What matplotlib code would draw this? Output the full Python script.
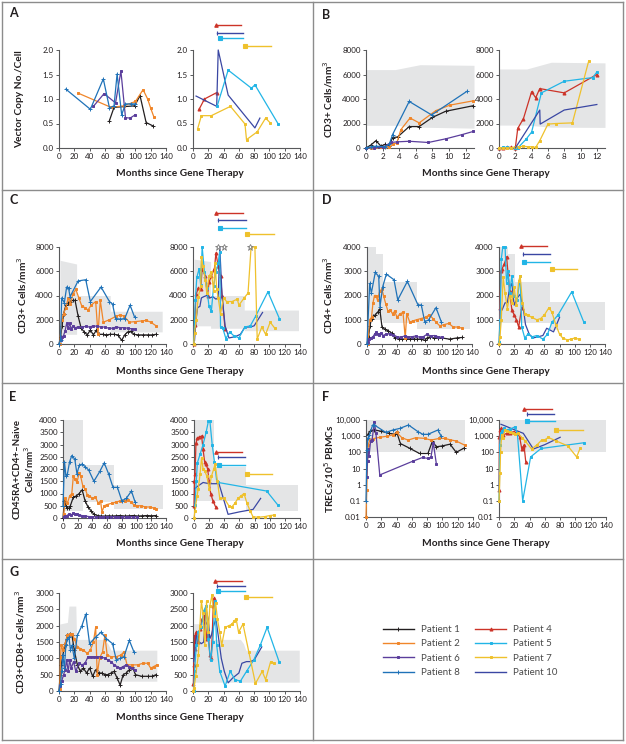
import matplotlib
matplotlib.use('Agg')
import matplotlib.pyplot as plt
from matplotlib.lines import Line2D

# ---------------- data (months since gene therapy, value) ----------------
A_LEFT = {
    1: ([66, 72, 99, 106, 114, 123], [0.56, 0.83, 0.86, 1.07, 0.52, 0.45]),
    2: ([25, 68, 85, 100, 110, 116, 120, 124], [1.12, 0.83, 0.86, 0.95, 1.19, 1.0, 0.81, 0.64]),
    6: ([45, 59, 74, 81, 87, 93, 100], [0.85, 1.11, 0.92, 1.57, 0.62, 0.61, 0.68]),
    8: ([9, 41, 58, 66, 72, 76, 82, 87, 94, 99], [1.2, 0.79, 1.41, 0.82, 0.86, 1.51, 0.68, 0.9, 0.9, 0.9]),
}
A_RIGHT = {
    4: ([8, 15, 31], [0.79, 1.0, 1.13]),
    10: ([4, 31, 33, 46, 81, 87.5], [1.06, 0.85, 2.0, 1.08, 0.41, 0.61]),
    5: ([31.5, 46, 76.5, 81, 111.5], [0.85, 1.59, 1.22, 1.29, 0.49]),
    7: ([6, 11, 24, 49, 68, 70, 84, 95, 100.6], [0.39, 0.66, 0.66, 0.85, 0.49, 0.17, 0.33, 0.61, 0.52]),
}
A_BRACKETS = {4: (30, 63, 2.51), 10: (32, 66, 2.35), 5: (35, 66, 2.24), 7: (68, 102, 2.08)}

B_LEFT = {
    1: ([0, 0.6, 1.2, 1.8, 2.3, 2.8, 3.2, 3.8, 5.2, 6.4, 8.0, 9.6, 12.9],
        [0, 250, 600, 150, 300, 200, 850, 900, 1750, 1750, 2500, 3000, 3450]),
    2: ([0, 0.6, 1.2, 1.8, 2.3, 2.8, 3.2, 3.7, 4.2, 5.3, 6.4, 8.4, 10.1, 12.9],
        [0, 0, 50, 50, 100, 100, 300, 400, 1500, 2450, 2050, 3050, 3500, 3850]),
    6: ([0, 1, 2, 3, 3.7, 5.2, 7.5, 9.6, 11.6, 12.9], [0, 30, 50, 450, 500, 550, 450, 750, 1100, 1350]),
    8: ([0, 0.6, 1.2, 2.3, 2.8, 3.2, 5.2, 7.9, 12.2], [0, 100, 150, 100, 300, 1100, 3800, 2700, 4650]),
}
B_RIGHT = {
    4: ([0, 0.5, 1, 1.5, 2, 2.3, 3, 4, 4.5, 5, 8, 12],
        [0, 0, 50, 50, 0, 1600, 2400, 4600, 4100, 4850, 4500, 6000]),
    5: ([0, 0.5, 1, 1.5, 2, 2.3, 3.3, 4, 5.2, 8, 11.5, 12],
        [0, 50, 50, 0, 0, 0, 700, 1300, 4500, 5450, 5750, 6200]),
    7: ([0, 0.5, 1, 1.5, 2, 2.5, 3, 3.5, 4, 4.5, 5, 6, 7, 9, 11],
        [0, 0, 0, 0, 100, 100, 150, 100, 100, 50, 600, 1950, 2000, 2050, 7100]),
    10: ([2, 5, 5.05, 8, 12], [0, 3100, 1950, 3100, 3550]),
}
B_LEFT_BAND = ([0, 3.5, 6.5, 13], [1850, 1850, 1700, 1620], [6400, 6400, 6800, 6750])
B_RIGHT_BAND = ([0, 3.4, 6.4, 13], [1870, 1870, 1700, 1680], [6450, 6450, 7000, 6950])

C_LEFT = {
    1: ([0, 2, 4, 6, 9, 12, 15, 18, 21, 25, 29, 33, 37, 41, 45, 49, 52, 57, 62, 67, 72, 77, 82, 86, 90, 94, 98, 104, 110, 116, 122, 127],
        [0, 600, 1500, 2500, 3200, 3400, 3500, 3600, 3600, 2300, 1300, 1000, 750, 1150, 750, 1150, 800, 800, 750, 800, 800, 750, 300, 750, 1000, 1050, 800, 750, 750, 750, 750, 800]),
    2: ([1, 3.5, 6, 9, 12, 15, 18, 22, 26, 30, 34, 38, 42, 48, 51, 54, 58, 66, 75, 80, 85, 92, 100, 108, 114, 120, 127],
        [0, 2000, 2500, 3000, 3800, 3300, 4100, 4500, 3800, 3100, 3000, 2800, 3200, 3500, 800, 3600, 1800, 2000, 2300, 2400, 2300, 1800, 1850, 1900, 1950, 1800, 1500]),
    6: ([2, 4, 6, 8, 10, 12, 14, 16, 18, 21, 25, 30, 35, 40, 45, 50, 55, 60, 65, 70, 75, 80, 85, 90, 95, 100],
        [300, 600, 700, 1100, 1700, 1300, 1700, 1200, 1500, 1350, 1400, 1400, 1450, 1400, 1500, 1450, 1400, 1400, 1300, 1300, 1400, 1350, 1350, 1300, 1250, 1200]),
    8: ([0, 2, 3.5, 7, 10, 12.5, 14.5, 25, 35, 41, 55, 66, 70, 74, 80, 86, 93, 99],
        [0, 300, 3800, 3400, 4700, 4600, 3900, 5200, 5300, 3500, 4700, 3500, 3300, 2100, 2050, 2100, 3200, 2200]),
}
C_RIGHT = {
    4: ([1, 2, 4, 7, 10, 12, 16, 19, 21, 24, 28, 30, 33, 36, 38, 42],
        [0, 1600, 4100, 4600, 4500, 6200, 5600, 4000, 5100, 5600, 6200, 7500, 6400, 5600, 4000, 1200]),
    10: ([2, 4, 6, 9, 11, 14, 18, 22, 26, 30, 33, 35, 38, 42, 47, 55, 62, 68, 75, 80, 85, 91],
         [300, 2000, 3000, 3100, 3800, 3900, 4000, 3800, 3900, 3700, 3800, 8000, 4000, 1500, 500, 600, 800, 1400, 1400, 1500, 2000, 2600]),
    5: ([1, 3, 5, 8, 10, 12, 15, 18, 21, 24, 27, 30, 33, 35, 36, 39, 43, 48, 53, 60, 68, 75, 82, 98, 113],
        [0, 3600, 5500, 6200, 4900, 8000, 5900, 4600, 3100, 2700, 4800, 5900, 6700, 7600, 1400, 1300, 450, 1000, 700, 500, 1400, 1500, 2300, 4300, 2100]),
    7: ([1, 2, 4, 7, 10, 11, 13, 16, 18, 21, 24, 27, 29, 31, 33, 36, 40, 44, 51, 58, 60, 67, 72, 76, 81, 84, 90, 95, 101, 107],
        [0, 900, 2000, 3900, 4800, 7200, 6400, 5300, 4200, 5600, 5900, 4400, 6700, 4500, 3800, 2500, 3800, 3500, 3500, 3700, 3200, 3800, 4200, 8000, 8000, 400, 1400, 800, 1800, 1300]),
}
C_LEFT_BAND = ([1.5, 23, 23, 67, 67, 135], [800, 800, 1500, 1500, 1000, 1000], [6900, 6600, 4000, 4000, 2700, 2700])
C_RIGHT_BAND = ([1.5, 23, 23, 67, 67, 138], [1500, 1500, 1300, 1300, 1100, 1100], [7000, 6800, 4000, 4000, 2800, 2800])
C_BRACKETS = {4: (30, 65, 10800), 10: (33, 69, 10200), 5: (35, 69, 9560), 7: (71, 106, 9100)}
C_STARS_X = [32.8, 40, 75]
C_STAR_VALUE = 8000

D_LEFT = {
    1: ([0, 2, 4, 6, 8, 11, 14, 17, 20, 24, 28, 33, 37, 42, 47, 52, 57, 62, 67, 72, 77, 80, 84, 89, 94, 100, 110, 120, 127],
        [0, 300, 750, 1050, 1150, 1200, 1300, 1450, 700, 600, 550, 450, 250, 200, 200, 200, 200, 200, 200, 200, 150, 250, 300, 250, 250, 250, 200, 250, 270]),
    2: ([1, 3.5, 6, 8, 10, 12, 14, 17, 20, 22, 25, 28, 31, 34, 37, 40, 44, 48, 51, 53, 57, 61, 66, 72, 78, 83, 88, 92, 97, 103, 109, 115, 121, 127],
        [0, 1000, 1100, 1700, 2000, 2000, 1800, 2200, 2250, 2000, 1650, 1350, 1400, 1250, 1350, 1100, 1250, 1300, 250, 1250, 900, 950, 1000, 1050, 1100, 1200, 1050, 900, 750, 800, 850, 700, 700, 650]),
    6: ([1, 3, 5, 8, 10, 12, 14, 16, 18, 21, 25, 30, 35, 40, 45, 50, 55, 60, 65, 70, 75, 80, 85, 90, 95, 100],
        [100, 200, 250, 300, 400, 480, 420, 380, 450, 350, 400, 420, 380, 300, 280, 330, 300, 300, 330, 280, 300, 400, 330, 350, 300, 280]),
    8: ([0, 3.6, 5.8, 11, 15.6, 17.3, 21, 25.8, 36, 41, 53.8, 68, 72.4, 77, 82, 92, 99],
        [0, 2500, 2100, 2950, 2790, 1540, 2370, 2880, 2650, 1820, 2580, 1610, 1610, 920, 990, 1500, 920]),
}
D_RIGHT = {
    4: ([0.5, 1.3, 2.6, 4, 7, 10, 12, 14, 17, 20, 23, 26, 30],
        [100, 1500, 3000, 3100, 3300, 3600, 2900, 2200, 1400, 1200, 1000, 700, 1500]),
    10: ([1, 4, 8, 11, 14, 17, 20, 24, 28, 32, 35, 40, 45, 52, 58, 63, 72, 80],
         [1400, 1400, 1700, 1700, 2300, 2500, 1600, 1900, 2050, 1500, 800, 400, 250, 300, 350, 650, 500, 1100]),
    5: ([0, 1.5, 3, 5, 8, 10, 12, 14, 17, 20, 24, 28, 30, 34, 38, 44, 50, 58, 64, 70, 78, 96, 112],
        [100, 1000, 3500, 4000, 4000, 2500, 3000, 2100, 2800, 2000, 1800, 2800, 700, 250, 400, 300, 350, 200, 400, 900, 1200, 2150, 900]),
    7: ([0, 1.3, 3, 5.5, 8, 11, 14, 17, 20, 23, 26, 28, 31, 34, 38, 43, 50, 55, 60, 66, 70, 75, 80, 84, 90, 95, 100, 105],
        [0, 300, 1000, 2750, 2100, 1450, 2000, 1700, 2350, 1600, 2600, 2800, 1700, 1250, 1200, 1100, 1000, 1050, 1200, 1500, 1300, 800, 400, 250, 170, 200, 250, 200]),
}
D_LEFT_BAND = ([0, 12, 12, 21, 21, 67, 67, 137], [1000, 1000, 1000, 1000, 850, 850, 620, 620],
               [4000, 4000, 3700, 3700, 2550, 2550, 1750, 1750])
D_RIGHT_BAND = ([0, 12, 12, 21, 21, 67, 67, 140], [850, 850, 850, 850, 850, 850, 580, 580],
                [4000, 4000, 3700, 3700, 2550, 2550, 1750, 1750])
D_BRACKETS = {4: (29, 64, 4050), 10: (32, 67, 3710), 5: (33.5, 67, 3400), 7: (70.5, 103, 3090)}

E_LEFT = {
    1: ([0, 2, 4, 6, 8, 10, 14, 18, 22, 26, 30, 34, 38, 42, 47, 52, 57, 62, 67, 72, 78, 84, 90, 96, 102, 108, 114, 120, 127],
        [0, 700, 500, 400, 400, 500, 850, 900, 1000, 1150, 700, 450, 300, 150, 100, 80, 80, 90, 80, 90, 100, 80, 90, 100, 80, 90, 100, 90, 100]),
    2: ([1, 3, 6, 9, 12, 14, 16, 19, 22, 24, 27, 30, 33, 36, 40, 44, 48, 51, 53, 56, 60, 66, 72, 78, 84, 88, 92, 96, 100, 106, 112, 118, 124, 127],
        [150, 800, 600, 900, 1000, 1700, 1600, 1450, 1850, 1700, 1300, 1200, 950, 900, 800, 850, 600, 700, 250, 500, 550, 600, 650, 700, 700, 750, 650, 550, 500, 500, 450, 450, 400, 350]),
    6: ([1, 3, 5, 8, 11, 14, 16, 19, 22, 26, 30, 35, 40, 45, 50, 55, 60, 65, 70, 75, 80, 85, 90, 95, 100],
        [50, 80, 100, 150, 120, 200, 180, 150, 120, 100, 80, 60, 50, 50, 40, 50, 50, 40, 50, 50, 40, 50, 60, 40, 50]),
    8: ([0, 2, 4, 6, 9, 12, 16, 19, 22, 26, 30, 35, 42, 50, 56, 62, 68, 74, 80, 86, 93, 98],
        [500, 2300, 1700, 1800, 2300, 2550, 2400, 1800, 2150, 2200, 2100, 1950, 1500, 1900, 2250, 1800, 1250, 1250, 700, 800, 1100, 650]),
}
E_RIGHT = {
    4: ([0, 0.5, 1.3, 2.6, 4.4, 7, 10, 12, 14, 16, 18, 20, 22, 25, 28.6],
        [500, 1500, 1800, 3050, 3250, 3300, 3350, 2800, 2300, 2200, 2000, 1500, 1000, 700, 450]),
    10: ([1, 5, 12, 20, 30, 33, 45, 60, 78, 88], [1200, 1300, 1450, 1400, 1400, 1400, 150, 250, 350, 800]),
    5: ([1.3, 3, 4.4, 8, 12, 16, 19, 21, 24, 27, 30, 32, 96, 111],
        [550, 1500, 2250, 2600, 3000, 3500, 3950, 3950, 3000, 2300, 1500, 1450, 1100, 520]),
    7: ([0, 1.3, 4, 5.7, 8, 10, 12, 14.5, 17, 20, 23, 26, 28, 31, 34, 40, 46, 50, 54, 58, 62, 66, 70, 74, 78, 85, 94, 100, 106],
        [0, 300, 900, 1200, 1800, 2450, 2000, 1900, 1700, 1200, 1700, 2000, 2200, 1500, 800, 800, 500, 450, 600, 800, 900, 1000, 600, 300, 50, 30, 60, 100, 120]),
}
E_LEFT_BAND = ([0, 27, 27, 69, 69, 136], [300, 300, 650, 650, 350, 350], [4000, 4000, 2150, 2150, 1350, 1350])
E_RIGHT_BAND = ([0, 27, 27, 69, 69, 138], [700, 700, 700, 700, 300, 300], [4000, 4000, 2100, 2100, 1350, 1350])
E_BRACKETS = {4: (29, 64, 2700), 10: (32, 67, 2500), 5: (33.5, 67, 2180), 7: (69.6, 103.5, 1790)}

F_LEFT = {
    1: ([2, 5, 10, 20, 30, 38, 40, 45, 57, 70, 81, 87, 92, 100, 110, 118, 128],
        [1200, 2000, 2500, 2000, 1500, 1300, 1900, 350, 180, 85, 85, 500, 220, 250, 320, 100, 180]),
    2: ([0, 1, 2, 3, 5, 9, 18, 28, 35, 40, 47, 55, 65, 77, 85, 96, 103, 110, 118, 129],
        [0.01, 0.5, 30, 300, 600, 700, 850, 1000, 1200, 1700, 800, 570, 800, 730, 570, 730, 730, 600, 500, 280]),
    6: ([1, 2, 3, 4, 6, 8, 11, 13, 18, 61, 74, 81, 85, 88, 92],
        [3, 30, 150, 60, 500, 600, 8000, 1500, 4, 28, 48, 42, 50, 400, 20]),
    8: ([0, 1.3, 2.2, 4.4, 8.7, 10.9, 26, 35, 44, 55.6, 68, 74.4, 81, 94, 98.4],
        [0.1, 140, 720, 1170, 4900, 4900, 1700, 2400, 3000, 4900, 1900, 1300, 1300, 2400, 1000]),
}
F_RIGHT = {
    4: ([0, 0.5, 1.3, 3, 5.7, 10, 15, 19, 24, 27, 29.7, 31, 32.7, 35],
        [0.5, 900, 2400, 3000, 1200, 1500, 1600, 1900, 1500, 900, 170, 200, 280, 26]),
    10: ([2.6, 7, 20, 31.8, 45, 60, 80], [5400, 4500, 2500, 1500, 160, 300, 850]),
    5: ([0, 1, 2, 4, 6, 10, 15, 21, 24, 31, 41.4, 55, 111],
        [0.1, 300, 1500, 2000, 3000, 2500, 2800, 3800, 1500, 0.1, 52, 173, 390]),
    7: ([0, 1.3, 2, 3.5, 5, 7.8, 11, 14.4, 18, 21, 25, 30, 34, 42.7, 50, 55.8, 60, 64.5, 75, 90, 101.6, 106],
        [0.1, 5, 100, 1200, 800, 2400, 2000, 1900, 1500, 1350, 1500, 800, 520, 160, 300, 570, 600, 840, 500, 250, 52, 173]),
}
F_LEFT_BAND = ([0, 130], [100, 100], [10000, 10000])
F_RIGHT_BAND = ([0, 140], [100, 100], [10000, 10000])
F_BRACKETS = {4: (33, 69, 45900), 10: (36, 72, 23600), 5: (37, 73, 8700), 7: (74.6, 110, 2400)}
F_TICKS = [0.01, 0.1, 1, 10, 100, 1000, 10000]
F_TICK_LABELS = ['0.01', '0.1', '1', '10', '100', '1,000', '10,000']

G_LEFT = {
    1: ([0, 1.5, 3, 5, 8, 11, 14, 17, 20, 24, 28, 32, 36, 40, 44, 48, 52, 56, 60, 64, 68, 72, 76, 80, 84, 88, 92, 96, 100, 108, 116, 122, 127],
        [0, 500, 800, 1100, 1450, 1700, 1750, 1700, 1250, 800, 600, 700, 550, 700, 450, 650, 550, 550, 500, 500, 550, 600, 400, 180, 500, 550, 650, 750, 500, 450, 450, 450, 500]),
    2: ([1, 2, 3, 5, 8, 11, 14, 17, 20, 24, 28, 32, 37, 41, 45, 48, 50, 53, 57, 60, 63, 68, 75, 81, 85, 89, 96, 103, 110, 116, 120, 124, 128],
        [50, 1050, 1400, 1250, 1450, 1700, 1750, 1750, 1600, 1350, 1300, 1250, 1150, 1250, 1500, 1950, 500, 1000, 1200, 1700, 1100, 1050, 1050, 1100, 1200, 800, 800, 800, 850, 850, 700, 750, 800]),
    6: ([1, 3.5, 6, 8, 10, 12, 14, 16, 19, 22, 26, 30, 34, 38, 42, 46, 50, 55, 60, 64, 68, 72, 76, 80, 84, 88, 92, 96, 100],
        [150, 300, 500, 650, 950, 600, 950, 700, 900, 600, 850, 800, 850, 1050, 1050, 1050, 1050, 1050, 1000, 950, 900, 800, 750, 700, 750, 800, 750, 700, 650]),
    8: ([0, 2, 3.5, 5, 7, 9, 11, 13, 15, 17, 20, 24, 30, 35, 40, 48, 55, 62, 70, 75, 80, 85, 92, 98],
        [0, 200, 600, 1100, 700, 1400, 1600, 1650, 1250, 1400, 1000, 1700, 2000, 2350, 1450, 1650, 1800, 1600, 1450, 950, 1000, 1050, 1550, 1200]),
}
G_RIGHT = {
    4: ([0.5, 1, 2.2, 3, 4.4, 6, 9, 12, 14, 16, 18, 20, 22, 24, 26.5, 28],
        [200, 800, 1700, 1300, 1800, 1500, 1900, 2200, 2300, 2100, 1600, 1750, 1100, 1000, 2600, 2850]),
    10: ([1, 4.4, 8, 11, 14, 17, 20, 22, 24, 27, 30, 33, 37, 41, 46, 52, 60, 64, 70, 75, 80, 85, 90],
         [900, 1700, 1500, 1450, 1500, 2500, 2200, 1600, 1700, 2000, 2200, 1700, 1000, 600, 250, 400, 550, 850, 900, 900, 950, 1150, 1350]),
    5: ([1, 2, 4.4, 7, 11, 14, 17, 20, 23, 26, 28.7, 31, 35, 42, 48.6, 55, 62, 70, 79.5, 88, 97, 112.6],
        [0, 600, 1400, 1800, 1950, 2450, 2600, 1600, 950, 1500, 2750, 1400, 600, 150, 600, 350, 300, 600, 950, 1400, 1950, 900]),
    7: ([0, 1.3, 3.5, 5.3, 7, 9, 11, 13, 15.5, 17.7, 20, 22, 25, 27, 29.6, 32, 35, 37.5, 42, 47, 51, 54, 56.5, 59.6, 65.4, 73, 81.7, 90.5, 95, 101.6, 106],
        [0, 80, 450, 800, 1100, 2000, 2750, 2400, 1400, 2750, 1800, 2600, 2950, 2300, 2700, 2200, 1800, 1400, 1950, 2000, 2050, 2150, 2200, 1800, 2050, 1200, 230, 600, 350, 900, 850]),
}
G_LEFT_BAND = ([1, 11, 13, 22, 23, 59, 64, 68, 128], [300] * 9,
               [2050, 2100, 2600, 2600, 1580, 1580, 1450, 1250, 1250])
G_RIGHT_BAND = ([1, 21, 22, 62, 66, 69, 139], [270] * 7, [2060, 2060, 1580, 1580, 1450, 1250, 1250])
G_BRACKETS = {4: (28.7, 64, 3380), 10: (31.8, 67.6, 3220), 5: (33, 68.5, 3070), 7: (69, 104, 2870)}

PATIENT_ORDER = [1, 2, 6, 8, 4, 5, 7, 10]

# ---------------- styling ----------------
COLORS = {1: '#231f20', 2: '#f0862a', 6: '#5b3e9c', 8: '#1f72b8',
          4: '#cc3328', 5: '#22b5e6', 7: '#efc12c', 10: '#3a47a3'}
MARKERS = {1: '+', 2: 's', 6: 's', 8: '+', 4: '^', 5: 's', 7: 's', 10: ''}
MSIZE = {1: 3.0, 2: 1.8, 6: 2.0, 8: 3.0, 4: 2.2, 5: 1.8, 7: 1.8, 10: 0}
BAND = '#e4e5e6'
AXIS_C = '#58595b'
TEXT_C = '#231f20'

plt.rcParams['font.family'] = ['Lato', 'DejaVu Sans']

W, H = 626, 744
fig = plt.figure(figsize=(W / 100, H / 100), dpi=100)


def add_ax(x0, x1, ytop, ybot):
    return fig.add_axes([x0 / W, 1 - ybot / H, (x1 - x0) / W, (ybot - ytop) / H])


def setup(ax, xmax, xticks, ylim, yticks, ylabels=None, log=False):
    if log:
        ax.set_yscale('log')
    ax.set_xlim(0, xmax)
    ax.set_ylim(*ylim)
    ax.set_xticks(xticks)
    ax.set_yticks(yticks)
    if ylabels is not None:
        ax.set_yticklabels(ylabels)
    ax.minorticks_off()
    ax.patch.set_alpha(0)
    for s in ['top', 'right']:
        ax.spines[s].set_visible(False)
    for s in ['left', 'bottom']:
        ax.spines[s].set_color(AXIS_C)
        ax.spines[s].set_linewidth(0.8)
    ax.tick_params(direction='out', length=2.5, width=0.7, color=AXIS_C,
                   labelsize=5.8, pad=1.3, labelcolor=TEXT_C)


def draw(ax, series, band=None, brackets=None):
    if band is not None:
        bx, lo, hi = band
        ax.fill_between(bx, lo, hi, color=BAND, lw=0, zorder=1)
    for pid, (xs, ys) in series.items():
        ax.plot(xs, ys, color=COLORS[pid], lw=0.9, marker=MARKERS[pid] or None,
                ms=MSIZE[pid], mew=0.7, clip_on=False, zorder=3)
    if brackets:
        for pid, (x0, x1, y) in brackets.items():
            ax.plot([x0, x1], [y, y], color=COLORS[pid], lw=1.0, clip_on=False, zorder=3)
            ax.plot([x0], [y], color=COLORS[pid], marker=MARKERS[pid] or '|',
                    ms=max(MSIZE[pid], 2.5), mew=0.8, clip_on=False, zorder=3)


MONTHS = list(range(0, 141, 20))


def ylabel(x, ytop, ybot, text, size=7.3):
    fig.text(x / W, 1 - (ytop + ybot) / 2 / H, text, rotation=90, ha='center', va='center',
             fontsize=size, fontweight='bold', color=TEXT_C, linespacing=1.05)


def xlabel(xc, y):
    fig.text(xc / W, 1 - y / H, 'Months since Gene Therapy', ha='center', va='center',
             fontsize=7.3, fontweight='bold', color=TEXT_C)


def letter(x, y, s):
    fig.text(x / W, 1 - y / H, s, ha='left', va='center', fontsize=9, fontweight='bold', color=TEXT_C)


# ---- A ----
ax = add_ax(59, 166, 50, 148)
setup(ax, 140, MONTHS, (0, 2), [0, 0.5, 1.0, 1.5, 2.0], ['0.0', '0.5', '1.0', '1.5', '2.0'])
draw(ax, A_LEFT)
ax = add_ax(193, 300, 50, 148)
setup(ax, 140, MONTHS, (0, 2), [0, 0.5, 1.0, 1.5, 2.0], ['0.0', '0.5', '1.0', '1.5', '2.0'])
draw(ax, A_RIGHT, brackets=A_BRACKETS)
ylabel(20, 50, 148, 'Vector Copy No./Cell')
xlabel(180, 173)
letter(9, 13, 'A')

# ---- B ----
ax = add_ax(366, 474, 50, 148)
setup(ax, 13, range(0, 13, 2), (0, 8000), range(0, 8001, 2000))
draw(ax, B_LEFT, band=B_LEFT_BAND)
ax = add_ax(499, 605, 50, 148)
setup(ax, 13, range(0, 13, 2), (0, 8000), range(0, 8001, 2000))
draw(ax, B_RIGHT, band=B_RIGHT_BAND)
ylabel(328, 50, 148, 'CD3+ Cells/mm$^3$')
xlabel(486, 173)
letter(322, 15, 'B')

# ---- C ----
ax = add_ax(59, 166, 247, 344)
setup(ax, 140, MONTHS, (0, 8000), range(0, 8001, 2000))
draw(ax, C_LEFT, band=C_LEFT_BAND)
ax = add_ax(193, 300, 247, 344)
setup(ax, 140, MONTHS, (0, 8000), range(0, 8001, 2000))
draw(ax, C_RIGHT, band=C_RIGHT_BAND, brackets=C_BRACKETS)
ax.plot(C_STARS_X, [C_STAR_VALUE] * len(C_STARS_X), ls='none', marker='*', ms=4.5,
        mfc='white', mec='#7a7a7a', mew=0.6, clip_on=False, zorder=4)
ylabel(22, 247, 344, 'CD3+ Cells/mm$^3$')
xlabel(180, 371)
letter(9, 200, 'C')

# ---- D ----
ax = add_ax(367, 472, 247, 344)
setup(ax, 140, MONTHS, (0, 4000), range(0, 4001, 1000))
draw(ax, D_LEFT, band=D_LEFT_BAND)
ax = add_ax(499, 605, 247, 344)
setup(ax, 140, MONTHS, (0, 4000), range(0, 4001, 1000))
draw(ax, D_RIGHT, band=D_RIGHT_BAND, brackets=D_BRACKETS)
ylabel(328, 247, 344, 'CD4+ Cells/mm$^3$')
xlabel(486, 371)
letter(322, 200, 'D')

# ---- E ----
ax = add_ax(63, 166, 420, 518)
setup(ax, 140, MONTHS, (0, 4000), range(0, 4001, 500))
draw(ax, E_LEFT, band=E_LEFT_BAND)
ax = add_ax(194, 300, 420, 518)
setup(ax, 140, MONTHS, (0, 4000), range(0, 4001, 500))
draw(ax, E_RIGHT, band=E_RIGHT_BAND, brackets=E_BRACKETS)
ylabel(24, 420, 518, 'CD45RA+CD4+\u2013Naive\nCells/mm$^3$', size=7.0)
xlabel(180, 544)
letter(9, 397, 'E')

# ---- F ----
ax = add_ax(366, 473, 420, 517)
setup(ax, 140, MONTHS, (0.01, 10000), F_TICKS, F_TICK_LABELS, log=True)
draw(ax, F_LEFT, band=F_LEFT_BAND)
ax = add_ax(499, 606, 420, 517)
setup(ax, 140, MONTHS, (0.01, 10000), F_TICKS, F_TICK_LABELS, log=True)
draw(ax, F_RIGHT, band=F_RIGHT_BAND, brackets=F_BRACKETS)
ylabel(329, 420, 517, 'TRECs/10$^5$ PBMCs')
xlabel(486, 544)
letter(322, 397, 'F')

# ---- G ----
ax = add_ax(59, 166, 593, 691)
setup(ax, 140, MONTHS, (0, 3000), range(0, 3001, 500))
draw(ax, G_LEFT, band=G_LEFT_BAND)
ax = add_ax(193, 300, 593, 691)
setup(ax, 140, MONTHS, (0, 3000), range(0, 3001, 500))
draw(ax, G_RIGHT, band=G_RIGHT_BAND, brackets=G_BRACKETS)
ylabel(20, 593, 691, 'CD3+CD8+ Cells/mm$^3$')
xlabel(180, 718)
letter(9, 572, 'G')

# ---- legend ----
handles = [Line2D([], [], color=COLORS[p], lw=1.0, marker=MARKERS[p] or None, ms=MSIZE[p], mew=0.7)
           for p in PATIENT_ORDER]
labels = ['Patient %d' % p for p in PATIENT_ORDER]
fig.legend(handles, labels, ncol=2, loc='center', bbox_to_anchor=(470 / W, 1 - 651 / H),
           frameon=False, fontsize=7, handlelength=3.2, columnspacing=1.6,
           labelspacing=0.55, handletextpad=0.7, labelcolor='#4a4a4a')

# ---- panel borders ----
BORDER = dict(color='#8c8c8c', lw=1.0, transform=fig.transFigure)
for yy in [2, 190, 383, 559, 740]:
    fig.add_artist(Line2D([2 / W, 623 / W], [1 - yy / H, 1 - yy / H], **BORDER))
for xx in [2, 313, 623]:
    fig.add_artist(Line2D([xx / W, xx / W], [1 - 2 / H, 1 - 740 / H], **BORDER))

fig.savefig('out.png', dpi=100, facecolor='white')
